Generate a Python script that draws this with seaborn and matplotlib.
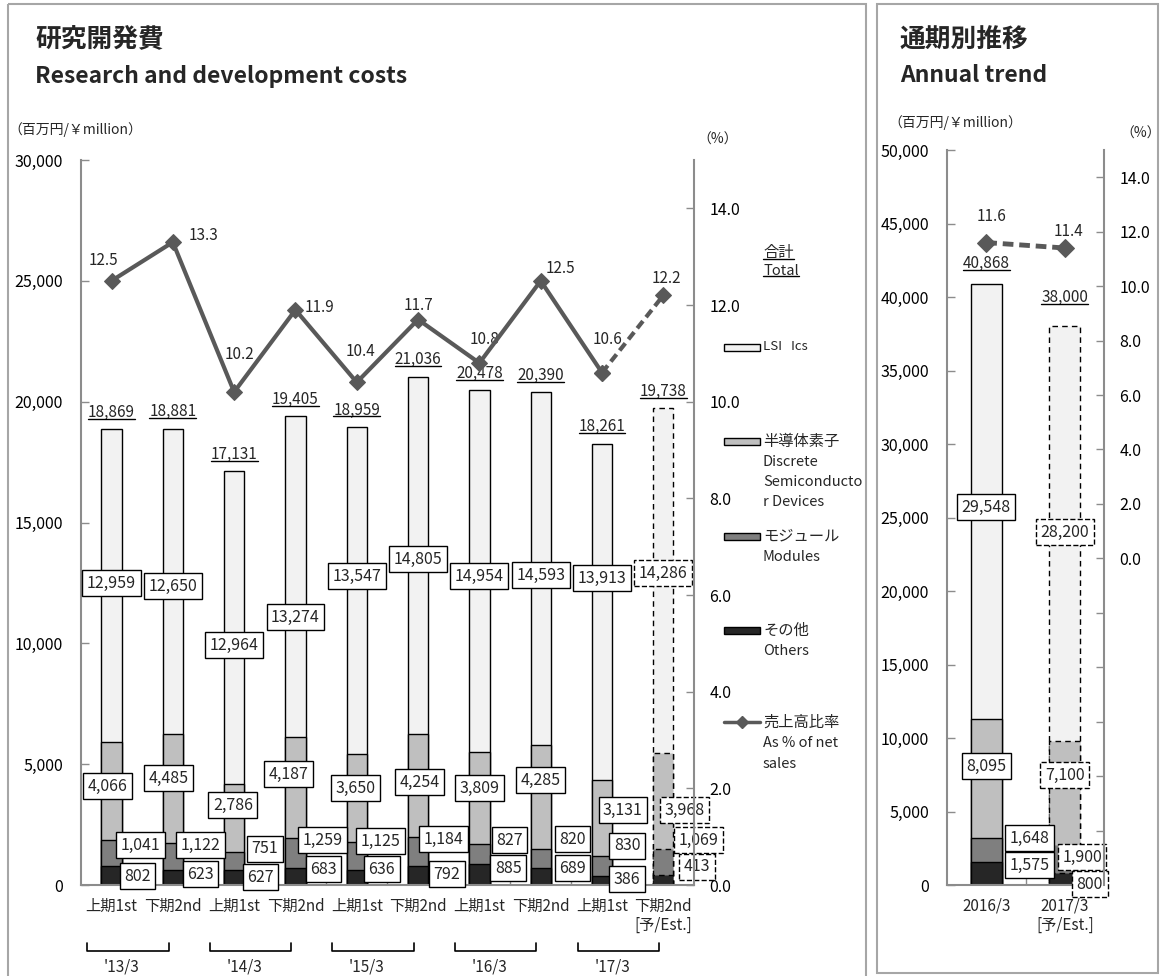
import numpy as np
import pandas as pd
import matplotlib
matplotlib.use("Agg")
import matplotlib.pyplot as plt
import seaborn as sns
from matplotlib.patches import Rectangle
from matplotlib.lines import Line2D
from matplotlib.transforms import blended_transform_factory

# ---------------- data ----------------
half_labels = ["上期1st", "下期2nd", "上期1st", "下期2nd", "上期1st", "下期2nd",
               "上期1st", "下期2nd", "上期1st", "下期2nd\n[予/Est.]"]
year_labels = ["'13/3", "'14/3", "'15/3", "'16/3", "'17/3"]
others = [802, 623, 627, 683, 636, 792, 885, 689, 386, 413]
modules = [1041, 1122, 751, 1259, 1125, 1184, 827, 820, 830, 1069]
discrete = [4066, 4485, 2786, 4187, 3650, 4254, 3809, 4285, 3131, 3968]
lsi = [12959, 12650, 12964, 13274, 13547, 14805, 14954, 14593, 13913, 14286]
totals = [18869, 18881, 17131, 19405, 18959, 21036, 20478, 20390, 18261, 19738]
ratio = [12.5, 13.3, 10.2, 11.9, 10.4, 11.7, 10.8, 12.5, 10.6, 12.2]
estimate = [False] * 9 + [True]

annual_labels = ["2016/3", "2017/3\n[予/Est.]"]
annual_others = [1575, 800]
annual_modules = [1648, 1900]
annual_discrete = [8095, 7100]
annual_lsi = [29548, 28200]
annual_totals = [40868, 38000]
annual_ratio = [11.6, 11.4]
annual_estimate = [False, True]

legend_names = [("LSI   Ics", ""), ("半導体素子", "Discrete\nSemiconducto\nr Devices"),
                ("モジュール", "Modules"), ("その他", "Others")]

# ---------------- layout (label placement) ----------------
lsi_lab_y = [12497, 12372, 9931, 11090, 12786, 13490, 12786, 12828, 12703, 12910]
dis_lab_y = [4097, 4428, 3310, 4593, 4014, 4262, 4014, 4345, 3103, 3103]
dis_lab_dx = [-0.06, -0.07, -0.02, -0.12, -0.02, 0.02, 0, 0, 0.34, 0.34]
mod_lab_y = [1655, 1655, 1490, 1862, 1821, 1903, 1862, 1903, 1614, 1862]
mod_lab_dx = [0.47, 0.45, 0.50, 0.44, 0.39, 0.42, 0.49, 0.52, 0.41, 0.57]
oth_lab_y = [372, 455, 331, 662, 662, 455, 703, 703, 248, 745]
oth_lab_dx = [0.42, 0.45, 0.43, 0.46, 0.41, 0.47, 0.47, 0.52, 0.41, 0.55]
pct_off = [(-6, 15), (22, 5), (4, 27), (17, 2), (3, 22), (0, 10), (4, 17), (14, 9), (4, 24), (2, 12)]

a_lab = {  # (dx, y)
    "lsi": [(0, 25716), (0, 24014)],
    "dis": [(0, 8096), (0, 7483)],
    "mod": [(0.55, 3197), (0.22, 1905)],
    "oth": [(0.55, 1361), (0.32, 68)],
}
a_pct_off = [(4, 19), (3, 12)]
a_tot_off = [9, 15]

# ---------------- style ----------------
sns.set_theme(style="white")
plt.rcParams["font.family"] = ["Noto Sans CJK JP", "DejaVu Sans"]
C_LSI, C_DIS, C_MOD, C_OTH = "#f2f2f2", "#bfbfbf", "#7f7f7f", "#262626"
COLORS = [C_OTH, C_MOD, C_DIS, C_LSI]
LINE = "#595959"
GREY = "#8c8c8c"
DASH = (0, (4, 3))
VAL_FS = 11.5

W, H = 1162, 976
fig = plt.figure(figsize=(W / 100, H / 100), dpi=100)
fig.patch.set_facecolor("white")


def axes_px(l, r, t, b):
    return fig.add_axes([l / W, 1 - b / H, (r - l) / W, (b - t) / H])


axL = axes_px(80.85, 694, 160, 885)
axR = axes_px(947, 1104, 150, 885)
ov = fig.add_axes([0, 0, 1, 1], zorder=20)
ov.set_xlim(0, W)
ov.set_ylim(H, 0)
ov.axis("off")


def stacked(ax, layers, est, width):
    cum = np.cumsum(np.array(layers, dtype=float), axis=0)
    n = cum.shape[1]
    for lvl in range(cum.shape[0] - 1, -1, -1):
        df = pd.DataFrame({"k": np.arange(n), "v": cum[lvl]})
        sns.barplot(data=df, x="k", y="v", color=COLORS[lvl], saturation=1, width=width,
                    edgecolor="black", linewidth=1.0, errorbar=None, ax=ax, zorder=2)
    for p in ax.patches:
        cx = p.get_x() + p.get_width() / 2
        if est[int(round(cx))]:
            p.set_linestyle(DASH)
    ax.set_xlabel("")
    ax.set_ylabel("")
    ax.set_xlim(-0.5, n - 0.5)


def style_axes(ax, ax2):
    ax.set_facecolor("none")
    for s in ["top", "right"]:
        ax.spines[s].set_visible(False)
    for s in ["left", "bottom"]:
        ax.spines[s].set_color(GREY)
        ax.spines[s].set_linewidth(1.5)
    for s in ["top", "left", "bottom"]:
        ax2.spines[s].set_visible(False)
    ax2.spines["right"].set_color(GREY)
    ax2.spines["right"].set_linewidth(1.5)
    ax.tick_params(axis="y", direction="in", length=6, width=1, color=GREY, pad=13,
                   labelsize=11.5, labelcolor="black", left=True)
    ax2.tick_params(axis="y", direction="in", length=6, width=1, color=GREY, pad=11,
                    labelsize=11.5, labelcolor="black", right=True)
    ax.tick_params(axis="x", which="major", length=0, pad=9, labelsize=11)
    ax.tick_params(axis="x", which="minor", direction="in", length=5, width=1,
                   color=GREY, bottom=True)
    ax.grid(False)
    ax2.grid(False)


def boxed(ax, x, y, val, est, fs=VAL_FS):
    ax.text(x, y, f"{val:,}", ha="center", va="center", fontsize=fs, zorder=8,
            clip_on=False,
            bbox=dict(boxstyle="square,pad=0.28", fc="white", ec="black", lw=1.0,
                      ls="--" if est else "-"))


underlined = []

# ---------------- left panel ----------------
stacked(axL, [others, modules, discrete, lsi], estimate, 0.33)
axL.set_ylim(0, 30000)
axL.set_yticks(np.arange(0, 30001, 5000))
axL.set_yticklabels([f"{v:,}" for v in range(0, 30001, 5000)])
axL.set_xticks(range(10))
axL.set_xticklabels(half_labels)
axL.set_xticks(np.arange(0.5, 9.5, 1), minor=True)
axL.get_xticklabels()[-1].set_multialignment("right")

axL2 = axL.twinx()
idx = np.arange(10)
sns.lineplot(x=idx[:9], y=ratio[:9], ax=axL2, color=LINE, lw=3, marker="D",
             markersize=8, markeredgecolor=LINE, zorder=5)
sns.lineplot(x=idx[8:], y=ratio[8:], ax=axL2, color=LINE, lw=3, linestyle=(0, (2.2, 1.2)),
             marker="D", markersize=8, markeredgecolor=LINE, zorder=5)
axL2.set_ylim(0, 15)
axL2.set_yticks(np.arange(0, 15, 2))
axL2.set_yticklabels([f"{v:.1f}" for v in np.arange(0, 15, 2)])
axL2.set_ylabel("")
axL2.set_xlim(-0.5, 9.5)
style_axes(axL, axL2)

for i in range(10):
    e = estimate[i]
    boxed(axL, i, lsi_lab_y[i], lsi[i], e)
    boxed(axL, i + dis_lab_dx[i], dis_lab_y[i], discrete[i], e)
    boxed(axL, i + mod_lab_dx[i], mod_lab_y[i], modules[i], e)
    boxed(axL, i + oth_lab_dx[i], oth_lab_y[i], others[i], e)
    t = axL.annotate(f"{totals[i]:,}", (i, totals[i]), xytext=(0, 6),
                     textcoords="offset points", ha="center", va="bottom", fontsize=11)
    underlined.append(t)
    axL2.annotate(f"{ratio[i]:.1f}", (i, ratio[i]), xytext=pct_off[i],
                  textcoords="offset points", ha="center", va="center", fontsize=11)

# ---------------- right panel ----------------
stacked(axR, [annual_others, annual_modules, annual_discrete, annual_lsi], annual_estimate, 0.4)
axR.set_ylim(0, 50000)
axR.set_yticks(np.arange(0, 50001, 5000))
axR.set_yticklabels([f"{v:,}" for v in range(0, 50001, 5000)])
axR.set_xticks(range(2))
axR.set_xticklabels(annual_labels)
axR.set_xticks([0.5], minor=True)

axR2 = axR.twinx()
sns.lineplot(x=np.arange(2), y=annual_ratio, ax=axR2, color=LINE, lw=3.5,
             linestyle=(0, (2.2, 1.2)), marker="D", markersize=9, markeredgecolor=LINE, zorder=5)
axR2.set_ylim(-12, 15)
rt = np.arange(-10, 15, 2)
axR2.set_yticks(rt)
axR2.set_yticklabels([f"{v:.1f}" if v >= 0 else "" for v in rt])
axR2.set_ylabel("")
axR2.set_xlim(-0.5, 1.5)
style_axes(axR, axR2)

for i, key in enumerate(["lsi", "dis", "mod", "oth"]):
    vals = [annual_lsi, annual_discrete, annual_modules, annual_others][i]
    for j in range(2):
        dx, yy = a_lab[key][j]
        boxed(axR, j + dx, yy, vals[j], annual_estimate[j])
for j in range(2):
    t = axR.annotate(f"{annual_totals[j]:,}", (j, annual_totals[j]), xytext=(0, a_tot_off[j]),
                     textcoords="offset points", ha="center", va="bottom", fontsize=11)
    underlined.append(t)
    axR2.annotate(f"{annual_ratio[j]:.1f}", (j, annual_ratio[j]), xytext=a_pct_off[j],
                  textcoords="offset points", ha="center", va="center", fontsize=11)

# ---------------- frames, titles, captions ----------------
ov.add_patch(Rectangle((8, 4), 858, 990, fill=False, ec="#a6a6a6", lw=1.5))
ov.add_patch(Rectangle((877, 4), 281, 969, fill=False, ec="#a6a6a6", lw=1.5))

ov.text(35, 40, "研究開発費", fontsize=18.5, fontweight="bold", va="center", ha="left")
ov.text(35, 76, "Research and development costs", fontsize=16.5, fontweight="bold",
        va="center", ha="left")
ov.text(900, 40, "通期別推移", fontsize=18.5, fontweight="bold", va="center", ha="left")
ov.text(900, 76, "Annual trend", fontsize=16.5, fontweight="bold", va="center", ha="left")
ov.text(8, 130, "（百万円/￥million）", fontsize=10, va="center", ha="left")
ov.text(888, 123, "（百万円/￥million）", fontsize=10, va="center", ha="left")
ov.text(697, 140, "（%）", fontsize=10, va="center", ha="left")
ov.text(1120, 134, "（%）", fontsize=10, va="center", ha="left")

# year brackets under the half-year labels
bt = blended_transform_factory(axL.transData, ov.transData)
for j, lab in enumerate(year_labels):
    x0, x1 = 2 * j - 0.40, 2 * j + 1 - 0.07
    ov.plot([x0, x0, x1, x1], [943, 951, 951, 943], color="black", lw=1.2,
            transform=bt, clip_on=False)
    ov.text((x0 + x1) / 2 - 0.1, 967, lab, transform=bt, ha="center", va="center",
            fontsize=11)

# legend
lx0, lx1, tx = 724, 760, 763
t1 = ov.text(tx, 252, "合計", fontsize=11, va="center", ha="left")
t2 = ov.text(tx, 271, "Total", fontsize=10.5, va="center", ha="left")
underlined += [t1, t2]
leg_y = [347, 441, 536, 630]
leg_col = [C_LSI, C_DIS, C_MOD, C_OTH]
for (name, sub), yy, col in zip(legend_names, leg_y, leg_col):
    ov.add_patch(Rectangle((lx0, yy - 3.5), lx1 - lx0, 7, fc=col, ec="black", lw=1))
    ov.text(tx, yy, name, fontsize=9.5 if name.startswith("LSI") else 11,
            va="center", ha="left")
    for k, line in enumerate(sub.split("\n") if sub else []):
        ov.text(tx, yy + 21 + k * 20, line, fontsize=10.5, va="center", ha="left")
ov.add_line(Line2D([lx0, lx1], [722, 722], color=LINE, lw=2.5))
ov.add_line(Line2D([742], [722], color=LINE, marker="D", markersize=6, lw=0))
ov.text(tx, 722, "売上高比率", fontsize=11, va="center", ha="left")
ov.text(tx, 743, "As % of net", fontsize=10.5, va="center", ha="left")
ov.text(tx, 764, "sales", fontsize=10.5, va="center", ha="left")

# underlines
fig.canvas.draw()
renderer = fig.canvas.get_renderer()
for t in underlined:
    bb = t.get_window_extent(renderer)
    y = bb.y0 + 2
    fig.add_artist(Line2D([bb.x0 / W, bb.x1 / W], [y / H, y / H], color="black", lw=1,
                          transform=fig.transFigure))

fig.savefig("out.png", dpi=100)
